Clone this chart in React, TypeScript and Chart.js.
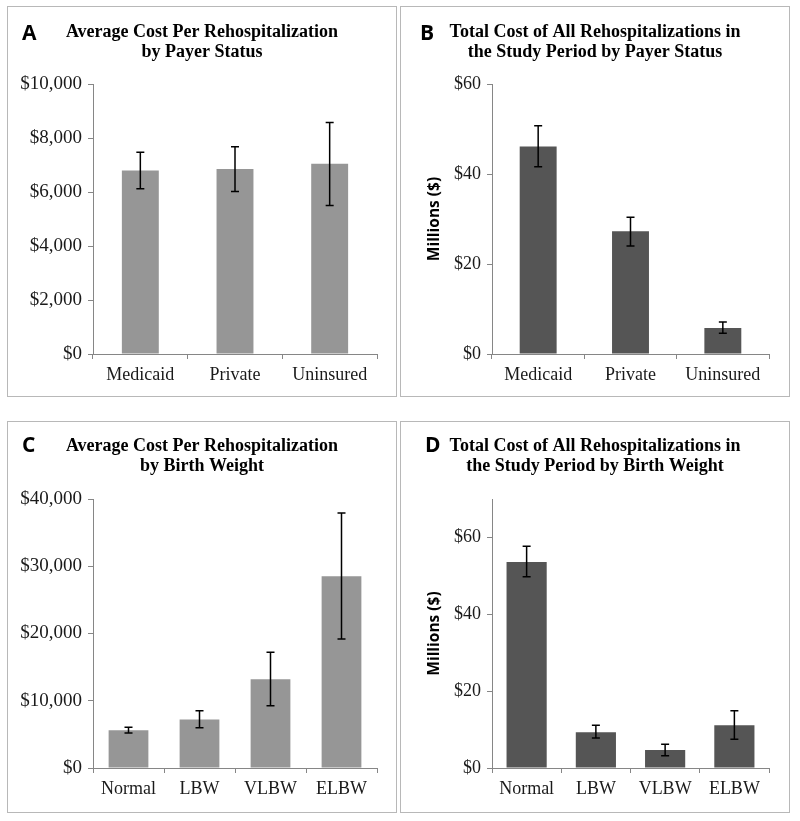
import React, { useEffect, useRef } from "react";
import { Chart, registerables } from "chart.js";

Chart.register(...registerables);

// ---- Data ----
const payerCategories = ["Medicaid", "Private", "Uninsured"];
const avgCostPayer = [6800, 6850, 7050];
const avgCostPayerLow = [6120, 6020, 5500];
const avgCostPayerHigh = [7470, 7680, 8570];

const totalCostPayer = [46.1, 27.3, 5.8];
const totalCostPayerLow = [41.6, 24.0, 4.6];
const totalCostPayerHigh = [50.7, 30.4, 7.1];

const bwCategories = ["Normal", "LBW", "VLBW", "ELBW"];
const avgCostBW = [5600, 7200, 13200, 28500];
const avgCostBWLow = [5200, 6000, 9250, 19200];
const avgCostBWHigh = [6050, 8500, 17200, 37900];

const totalCostBW = [53.6, 9.3, 4.7, 11.1];
const totalCostBWLow = [49.8, 7.8, 3.2, 7.5];
const totalCostBWHigh = [57.7, 11.1, 6.2, 14.9];

const titleA = ["Average Cost Per Rehospitalization", "by Payer Status"];
const titleB = ["Total Cost of All Rehospitalizations in", "the Study Period by Payer Status"];
const titleC = ["Average Cost Per Rehospitalization", "by Birth Weight"];
const titleD = ["Total Cost of All Rehospitalizations in", "the Study Period by Birth Weight"];
const yLabelMillions = "Millions ($)";

const LIGHT = "#969696";
const DARK = "#555555";
const AXIS = "#868686";
const SERIF = "'Liberation Serif', 'Times New Roman', serif";
const SANS = "'Open Sans', 'DejaVu Sans', sans-serif";

type PanelSpec = {
  left: number;
  top: number;
  width: number;
  height: number;
  letter: string;
  letterX: number;
  letterY: number;
  title: string[];
  titleY: number[];
  yLabel?: string;
  categories: string[];
  values: number[];
  low: number[];
  high: number[];
  color: string;
  barPct: number;
  yMax: number;
  yStep: number;
  yFont: number;
  axisX: number;
  plotTop: number;
  plotBottom: number;
  plotRight: number;
  hideTicks?: number[];
};

const fmtDollar = (v: number) => "$" + Number(v).toLocaleString("en-US");

function Panel({ spec }: { spec: PanelSpec }) {
  const ref = useRef<HTMLCanvasElement | null>(null);
  const cw = spec.width - 2;
  const ch = spec.height - 2;
  useEffect(() => {
    const canvas = ref.current;
    if (!canvas) return;
    const annot = {
      id: "annot",
      afterDatasetsDraw(chart: any) {
        const ctx = chart.ctx;
        const meta = chart.getDatasetMeta(0);
        const ys = chart.scales.y;
        ctx.save();
        ctx.strokeStyle = "#000";
        ctx.lineWidth = 1.5;
        meta.data.forEach((bar: any, i: number) => {
          const x = bar.x;
          const yl = ys.getPixelForValue(spec.low[i]);
          const yh = ys.getPixelForValue(spec.high[i]);
          ctx.beginPath();
          ctx.moveTo(x, yl);
          ctx.lineTo(x, yh);
          ctx.moveTo(x - 4, yl);
          ctx.lineTo(x + 4, yl);
          ctx.moveTo(x - 4, yh);
          ctx.lineTo(x + 4, yh);
          ctx.stroke();
        });
        ctx.restore();
      },
      afterDraw(chart: any) {
        const ctx = chart.ctx;
        ctx.save();
        ctx.fillStyle = "#000";
        ctx.textBaseline = "alphabetic";
        ctx.textAlign = "left";
        ctx.font = `bold 21px ${SANS}`;
        ctx.fillText(spec.letter, spec.letterX, spec.letterY);
        ctx.textAlign = "center";
        ctx.font = `bold 18px ${SERIF}`;
        spec.title.forEach((t, i) => ctx.fillText(t, cw / 2, spec.titleY[i]));
        if (spec.yLabel) {
          const ca = chart.chartArea;
          ctx.translate(34, (ca.top + ca.bottom) / 2);
          ctx.rotate(-Math.PI / 2);
          ctx.textBaseline = "middle";
          ctx.font = `bold 15.5px ${SANS}`;
          ctx.fillText(spec.yLabel, 0, 0);
        }
        ctx.restore();
      },
    };
    const chart = new Chart(canvas, {
      type: "bar",
      data: {
        labels: spec.categories,
        datasets: [
          {
            data: spec.values,
            backgroundColor: spec.color,
            borderWidth: 0,
            categoryPercentage: 1,
            barPercentage: spec.barPct,
          },
        ],
      },
      options: {
        responsive: false,
        animation: false,
        devicePixelRatio: 1,
        layout: {
          padding: { top: spec.plotTop, left: 0, right: cw - spec.plotRight, bottom: 0 },
        },
        plugins: { legend: { display: false }, title: { display: false }, tooltip: { enabled: false } },
        scales: {
          x: {
            offset: true,
            grid: { display: true, drawOnChartArea: false, offset: true, tickLength: 5, color: AXIS },
            border: { display: true, color: AXIS, width: 1 },
            ticks: { color: "#1a1a1a", font: { family: SERIF, size: 18 }, padding: 5, maxRotation: 0 },
            afterFit: (s: any) => {
              s.height = ch - spec.plotBottom;
            },
          },
          y: {
            min: 0,
            max: spec.yMax,
            grid: { display: true, drawOnChartArea: false, tickLength: 5, color: AXIS },
            border: { display: true, color: AXIS, width: 1 },
            ticks: {
              stepSize: spec.yStep,
              color: "#1a1a1a",
              font: { family: SERIF, size: spec.yFont },
              padding: 6,
              callback: (v: any) => fmtDollar(v),
            },
            afterBuildTicks: (axis: any) => {
              if (spec.hideTicks) axis.ticks = axis.ticks.filter((t: any) => !spec.hideTicks!.includes(t.value));
            },
            afterFit: (s: any) => {
              s.width = spec.axisX;
            },
          },
        },
      },
      plugins: [annot],
    } as any);
    return () => chart.destroy();
  }, []);
  return (
    <div
      style={{
        position: "absolute",
        left: spec.left,
        top: spec.top,
        width: spec.width,
        height: spec.height,
        border: "1px solid #b8b8b8",
        boxSizing: "border-box",
        background: "#fff",
      }}
    >
      <canvas ref={ref} width={cw} height={ch} style={{ display: "block", width: cw, height: ch }} />
    </div>
  );
}

const panels: PanelSpec[] = [
  {
    left: 7, top: 6, width: 390, height: 391,
    letter: "A", letterX: 14, letterY: 33, title: titleA, titleY: [30, 50],
    categories: payerCategories, values: avgCostPayer, low: avgCostPayerLow, high: avgCostPayerHigh,
    color: LIGHT, barPct: 0.39, yMax: 10000, yStep: 2000, yFont: 19,
    axisX: 85, plotTop: 77, plotBottom: 347, plotRight: 369,
  },
  {
    left: 400, top: 6, width: 390, height: 391,
    letter: "B", letterX: 19, letterY: 33, title: titleB, titleY: [30, 50], yLabel: yLabelMillions,
    categories: payerCategories, values: totalCostPayer, low: totalCostPayerLow, high: totalCostPayerHigh,
    color: DARK, barPct: 0.4, yMax: 60, yStep: 20, yFont: 18,
    axisX: 91, plotTop: 77, plotBottom: 347, plotRight: 368,
  },
  {
    left: 7, top: 421, width: 390, height: 392,
    letter: "C", letterX: 14, letterY: 30, title: titleC, titleY: [29, 49],
    categories: bwCategories, values: avgCostBW, low: avgCostBWLow, high: avgCostBWHigh,
    color: LIGHT, barPct: 0.56, yMax: 40000, yStep: 10000, yFont: 19,
    axisX: 85, plotTop: 77, plotBottom: 346, plotRight: 369,
  },
  {
    left: 400, top: 421, width: 390, height: 392,
    letter: "D", letterX: 24, letterY: 30, title: titleD, titleY: [29, 49], yLabel: yLabelMillions,
    categories: bwCategories, values: totalCostBW, low: totalCostBWLow, high: totalCostBWHigh,
    color: DARK, barPct: 0.58, yMax: 70, yStep: 20, yFont: 18, hideTicks: [70],
    axisX: 91, plotTop: 77, plotBottom: 346, plotRight: 368,
  },
];

export default function App() {
  return (
    <div style={{ position: "absolute", left: 0, top: 0, width: 800, height: 821, background: "#fff" }}>
      {panels.map((p) => (
        <Panel key={p.letter} spec={p} />
      ))}
    </div>
  );
}
